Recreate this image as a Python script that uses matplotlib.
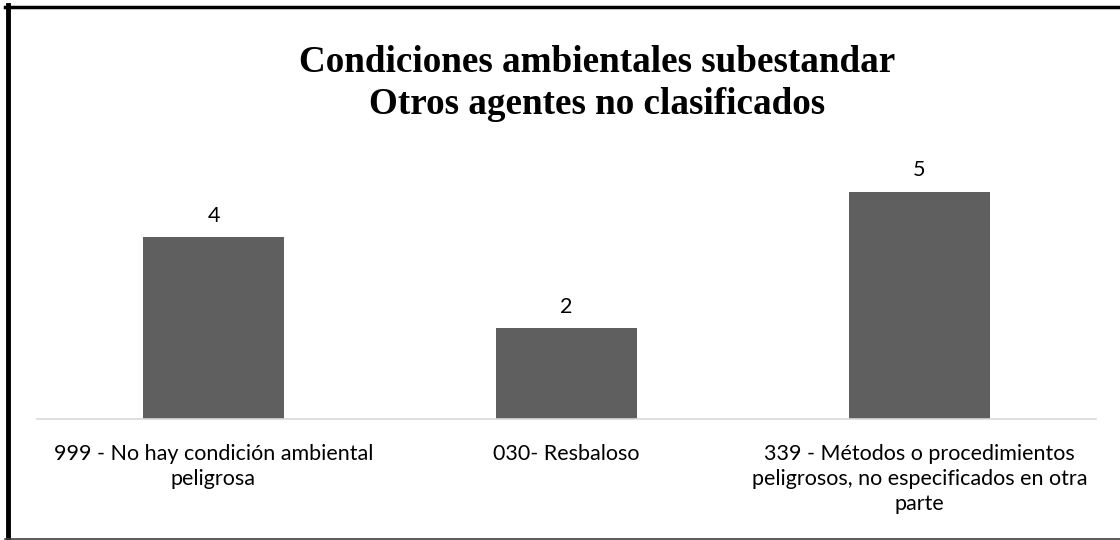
import matplotlib.pyplot as plt
from matplotlib.lines import Line2D

# datos
categorias = ['999 - No hay condición ambiental\npeligrosa',
              '030- Resbaloso',
              '339 - Métodos o procedimientos\npeligrosos, no especificados en otra\nparte']
valores = [4, 2, 5]
titulo = ['Condiciones ambientales subestandar', 'Otros agentes no clasificados']

fig = plt.figure(figsize=(11.2, 5.4), dpi=100)
ax = fig.add_axes([37 / 1120, 1 - 419 / 540, (1096 - 37) / 1120, (419 - 146) / 540])

x = range(len(categorias))
bars = ax.bar(x, valores, width=0.4, color='#5f5f5f', zorder=2)
ax.set_xlim(-0.5, len(categorias) - 0.5)
ax.set_ylim(0, 6)

for b, v in zip(bars, valores):
    ax.annotate(str(v), (b.get_x() + b.get_width() / 2, v), xytext=(0, 8),
                textcoords='offset points', ha='center', va='bottom',
                fontsize=15.5, family='Lato', color='#000000')

ax.set_xticks(list(x))
ax.set_xticklabels(categorias, fontsize=15.5, family='Lato', linespacing=1.3, va='top')
ax.tick_params(axis='x', length=0, pad=18)
ax.set_yticks([])
for s in ['top', 'right', 'left']:
    ax.spines[s].set_visible(False)
ax.spines['bottom'].set_color('#d9d9d9')
ax.spines['bottom'].set_linewidth(1.2)

# titulo, dos lineas
for linea, yb in zip(titulo, [72, 114]):
    fig.text(597 / 1120, 1 - yb / 540, linea, ha='center', va='baseline',
             fontsize=26.7, fontweight='bold', family='Liberation Serif')

# borde
fig.add_artist(Line2D([7.5 / 1120, 7.5 / 1120], [0, 1 - 5 / 540], transform=fig.transFigure,
                      color='black', linewidth=3.5))
fig.add_artist(Line2D([5 / 1120, 1], [1 - 6.5 / 540, 1 - 6.5 / 540], transform=fig.transFigure,
                      color='black', linewidth=2.5))
fig.add_artist(Line2D([5 / 1120, 1], [1.5 / 540, 1.5 / 540], transform=fig.transFigure,
                      color='#404040', linewidth=1.2))

fig.savefig('out.png', dpi=100)
